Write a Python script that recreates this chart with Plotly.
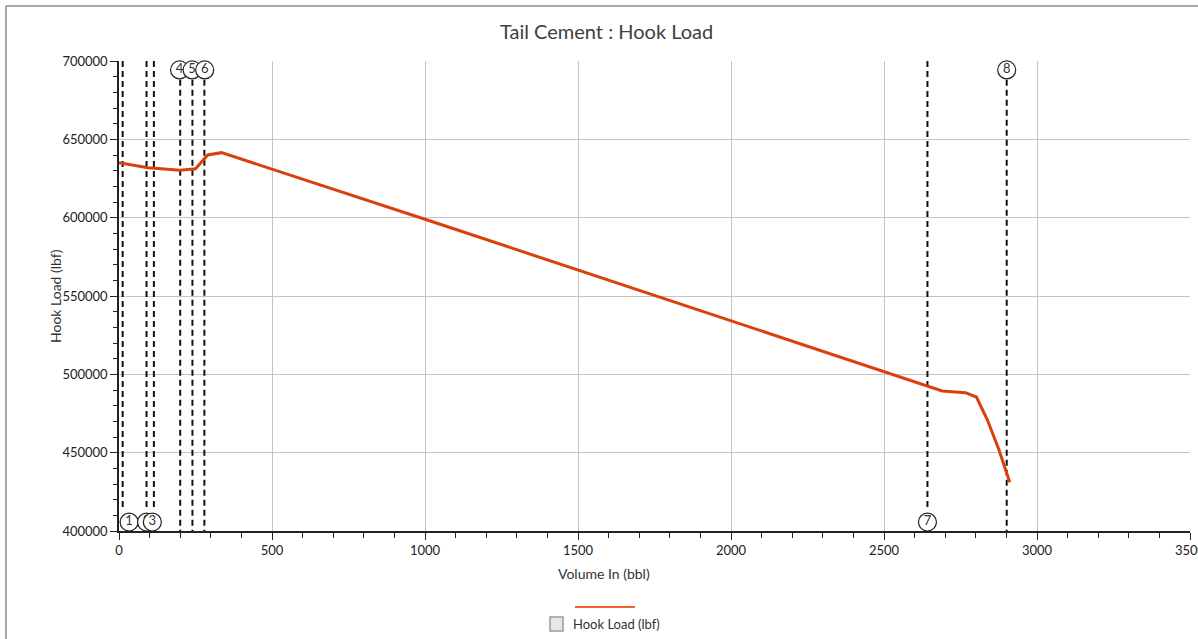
import plotly.graph_objects as go

# Hook load curve
volume_bbl = [0, 95, 200, 250, 290, 335, 1000, 1500, 2000, 2500,
              2642, 2690, 2766, 2802, 2837, 2875, 2911]
hook_load_lbf = [635000, 631800, 630300, 631200, 640000, 641500,
                 599000, 566500, 533800, 501500, 492200, 489400, 488300, 485500,
                 471300, 452200, 431100]

# Event markers
marker_volume = [12, 90, 114, 200, 240, 279, 2642, 2901]
marker_label = ["1", "2", "3", "4", "5", "6", "7", "8"]
marker_side = ["bottom", "bottom", "bottom", "top", "top", "top", "bottom", "top"]
label_volume = [33, 90, 109, 198, 239, 280, 2642, 2901]

X_RANGE = [0, 3500]
Y_RANGE = [400000, 700000]
Y_TOP_LABEL = 694300
Y_BOT_LABEL = 405700

FONT = "Segoe UI, Lato, Liberation Sans, sans-serif"
RED = "#d8400e"

fig = go.Figure()

# dashed marker lines
for v, s in zip(marker_volume, marker_side):
    if s == "top":
        ys = [688000, Y_RANGE[0]]
    else:
        ys = [Y_RANGE[1], 413400]
    fig.add_trace(go.Scatter(x=[v, v], y=ys, mode="lines",
                             line=dict(color="#111111", width=2, dash="6px,4px"),
                             hoverinfo="skip", showlegend=False))

# curve
fig.add_trace(go.Scatter(x=volume_bbl, y=hook_load_lbf, mode="lines",
                         name="Hook Load (lbf)",
                         line=dict(color=RED, width=3), showlegend=False))

# circled labels
for lv, lab, s in zip(label_volume, marker_label, marker_side):
    y = Y_TOP_LABEL if s == "top" else Y_BOT_LABEL
    fig.add_trace(go.Scatter(x=[lv], y=[y], mode="markers+text", text=[lab],
                             textposition="middle center",
                             textfont=dict(family=FONT, size=13, color="#333333"),
                             marker=dict(symbol="circle", size=18, color="white",
                                         line=dict(color="#222222", width=1.2)),
                             hoverinfo="skip", showlegend=False, cliponaxis=False))

L, R, T, B = 119, 8, 61, 108
W, H = 1198, 639
pw, ph = W - L - R, H - T - B


def px(x):
    return (x - L) / pw


def py(y):
    return (H - B - y) / ph


shapes = [
    # legend line
    dict(type="line", xref="paper", yref="paper", x0=px(575), x1=px(635), y0=py(607), y1=py(607),
         line=dict(color="#f0602a", width=2)),
    # checkbox
    dict(type="rect", xref="paper", yref="paper", x0=px(550), x1=px(563), y0=py(631), y1=py(617),
         line=dict(color="#999999", width=1.5), fillcolor="#e6e6ee"),
    # frame
    dict(type="line", xref="paper", yref="paper", x0=px(6), x1=px(6), y0=py(639), y1=py(6),
         line=dict(color="#8a8a8a", width=1.5)),
    dict(type="line", xref="paper", yref="paper", x0=px(6), x1=px(1198), y0=py(6), y1=py(6),
         line=dict(color="#8a8a8a", width=1.5)),
]

annotations = [
    dict(text="Tail Cement : Hook Load", xref="paper", yref="paper", x=px(606), y=py(31),
         showarrow=False, xanchor="center", yanchor="middle",
         font=dict(family=FONT, size=20, color="#404040")),
    dict(text="Volume In (bbl)", xref="paper", yref="paper", x=px(604), y=py(573),
         showarrow=False, xanchor="center", yanchor="middle",
         font=dict(family=FONT, size=14, color="#333333")),
    dict(text="Hook Load (lbf)", xref="paper", yref="paper", x=px(55), y=py(296),
         showarrow=False, xanchor="center", yanchor="middle", textangle=-90,
         font=dict(family=FONT, size=14, color="#333333")),
    dict(text="Hook Load (lbf)", xref="paper", yref="paper", x=px(571), y=py(624),
         showarrow=False, xanchor="left", yanchor="middle",
         font=dict(family=FONT, size=13, color="#333333")),
]

fig.update_layout(
    width=W, height=H,
    margin=dict(l=L, r=R, t=T, b=B, pad=0, autoexpand=False),
    paper_bgcolor="white", plot_bgcolor="white",
    font=dict(family=FONT, size=13, color="#222222"),
    shapes=shapes, annotations=annotations,
    showlegend=False,
)
fig.update_xaxes(range=X_RANGE, dtick=500, tick0=0, showgrid=True, gridcolor="#c4c4c4", gridwidth=1,
                 showline=True, linecolor="#222222", linewidth=1.5, automargin=False,
                 ticks="outside", ticklen=7, tickcolor="#222222", ticklabeloverflow="allow",
                 minor=dict(dtick=100, ticks="outside", ticklen=5, tickcolor="#222222", showgrid=False),
                 zeroline=False, tickfont=dict(family=FONT, size=13, color="#222222"))
fig.update_yaxes(range=Y_RANGE, dtick=50000, tick0=400000, showgrid=True, gridcolor="#c4c4c4", gridwidth=1,
                 showline=True, linecolor="#222222", linewidth=1.5, automargin=False,
                 ticks="outside", ticklen=7, tickcolor="#222222",
                 minor=dict(dtick=10000, ticks="outside", ticklen=4, tickcolor="#222222", showgrid=False),
                 zeroline=False, tickformat="d", tickfont=dict(family=FONT, size=13, color="#222222"))

fig.write_html("out.html", config={"displayModeBar": False},
               post_script="document.body.style.margin='0';")
